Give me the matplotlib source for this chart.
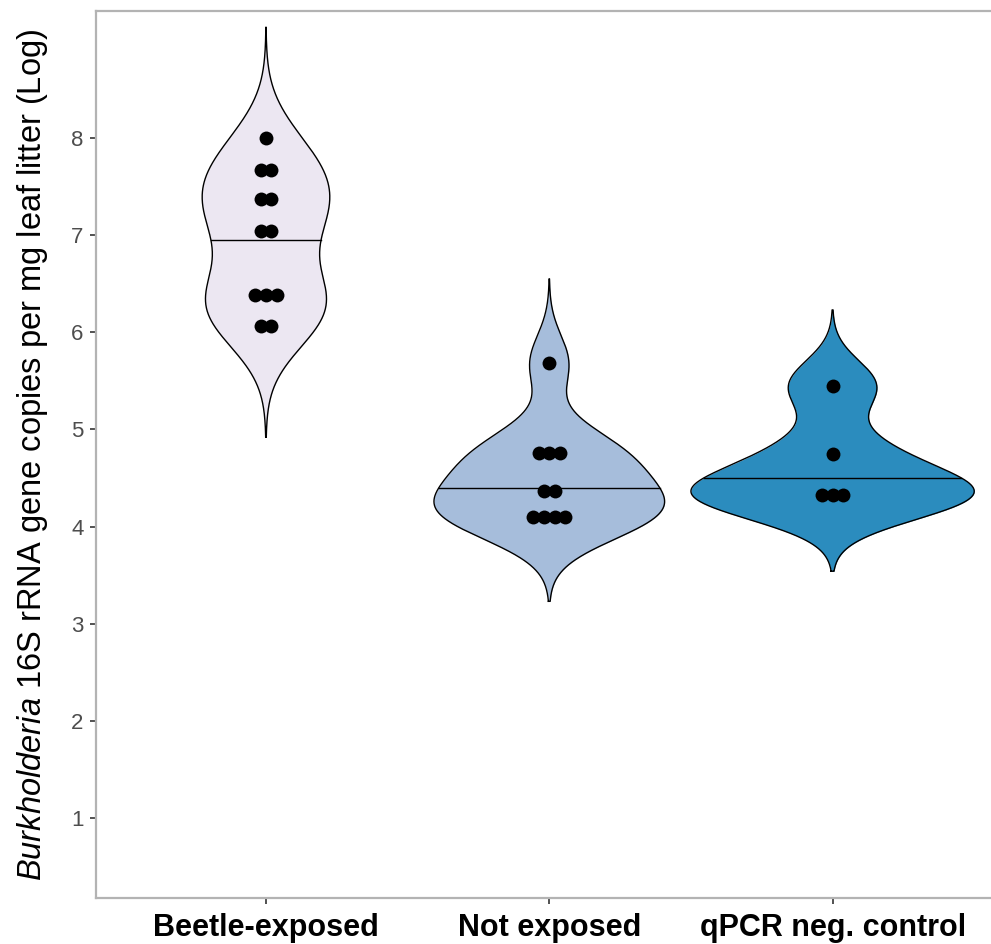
import numpy as np
import matplotlib
matplotlib.use("Agg")
import matplotlib.pyplot as plt

plt.rcParams['font.family'] = 'Liberation Sans'
plt.rcParams['mathtext.fontset'] = 'custom'
plt.rcParams['mathtext.it'] = 'Liberation Sans:italic'
plt.rcParams['mathtext.rm'] = 'Liberation Sans'

groups = ['Beetle-exposed', 'Not exposed', 'qPCR neg. control']
beetle = [8.00, 7.67, 7.67, 7.37, 7.37, 7.04, 7.04, 6.38, 6.38, 6.38, 6.06, 6.06]
not_exposed = [5.68, 4.76, 4.76, 4.76, 4.37, 4.37, 4.10, 4.10, 4.10, 4.10]
qpcr = [5.45, 4.75, 4.32, 4.32, 4.32]
centre_line = [6.95, 4.40, 4.50]
fills = ['#ECE7F2', '#A6BDDB', '#2B8CBE']
bandwidth = [0.38, 0.29, 0.26]

data = [beetle, not_exposed, qpcr]


def kde(vals, bw):
    vals = np.asarray(vals)
    grid = np.linspace(vals.min() - 3 * bw, vals.max() + 3 * bw, 512)
    z = (grid[:, None] - vals[None, :]) / bw
    dens = np.exp(-0.5 * z ** 2).sum(axis=1) / (len(vals) * bw * np.sqrt(2 * np.pi))
    return grid, dens


fig = plt.figure(figsize=(9.91, 9.44), dpi=100)
ax = fig.add_axes([96 / 991, 46 / 944, 1 - 96 / 991, 887 / 944])

dens_all = [kde(v, b) for v, b in zip(data, bandwidth)]
dmax = max(d.max() for _, d in dens_all)

for i, (vals, (grid, dens)) in enumerate(zip(data, dens_all)):
    pos = i + 1
    hw = dens / dmax * 0.5
    ax.fill_betweenx(grid, pos - hw, pos + hw, color=fills[i], lw=0, zorder=1)
    ax.plot(np.r_[pos - hw, (pos + hw)[::-1], pos - hw[0]],
            np.r_[grid, grid[::-1], grid[0]], color='black', lw=1.0, zorder=2)
    m = centre_line[i]
    w = np.interp(m, grid, hw)
    ax.plot([pos - w, pos + w], [m, m], color='black', lw=1.0, zorder=2)
    # stacked dots, centred
    uniq = []
    for v in vals:
        if v not in uniq:
            uniq.append(v)
    for u in uniq:
        n = vals.count(u)
        xs = pos + (np.arange(n) - (n - 1) / 2) * 0.038
        ax.scatter(xs, [u] * n, s=100, color='black', zorder=3, linewidths=0)

ax.set_xlim(0.4, 0.4 + 895 / 283.3)
ax.set_ylim(0.176, 9.307)
ax.set_xticks([1, 2, 3])
ax.set_xticklabels(groups, fontsize=22, fontweight='bold', color='black')
ax.set_yticks(range(1, 9))
ax.tick_params(axis='y', labelsize=16, labelcolor='#4d4d4d', color='#333333',
               length=4, width=1.2, pad=5)
ax.tick_params(axis='x', color='#333333', length=4, width=1.2, pad=7)
for s in ['left', 'top', 'bottom']:
    ax.spines[s].set_color('#b3b3b3')
    ax.spines[s].set_linewidth(1.6)
ax.spines['right'].set_visible(False)
ax.set_ylabel(r'$\it{Burkholderia}$ 16S rRNA gene copies per mg leaf litter (Log)',
              fontsize=23.5, labelpad=15)

fig.savefig('out.png', dpi=100)
